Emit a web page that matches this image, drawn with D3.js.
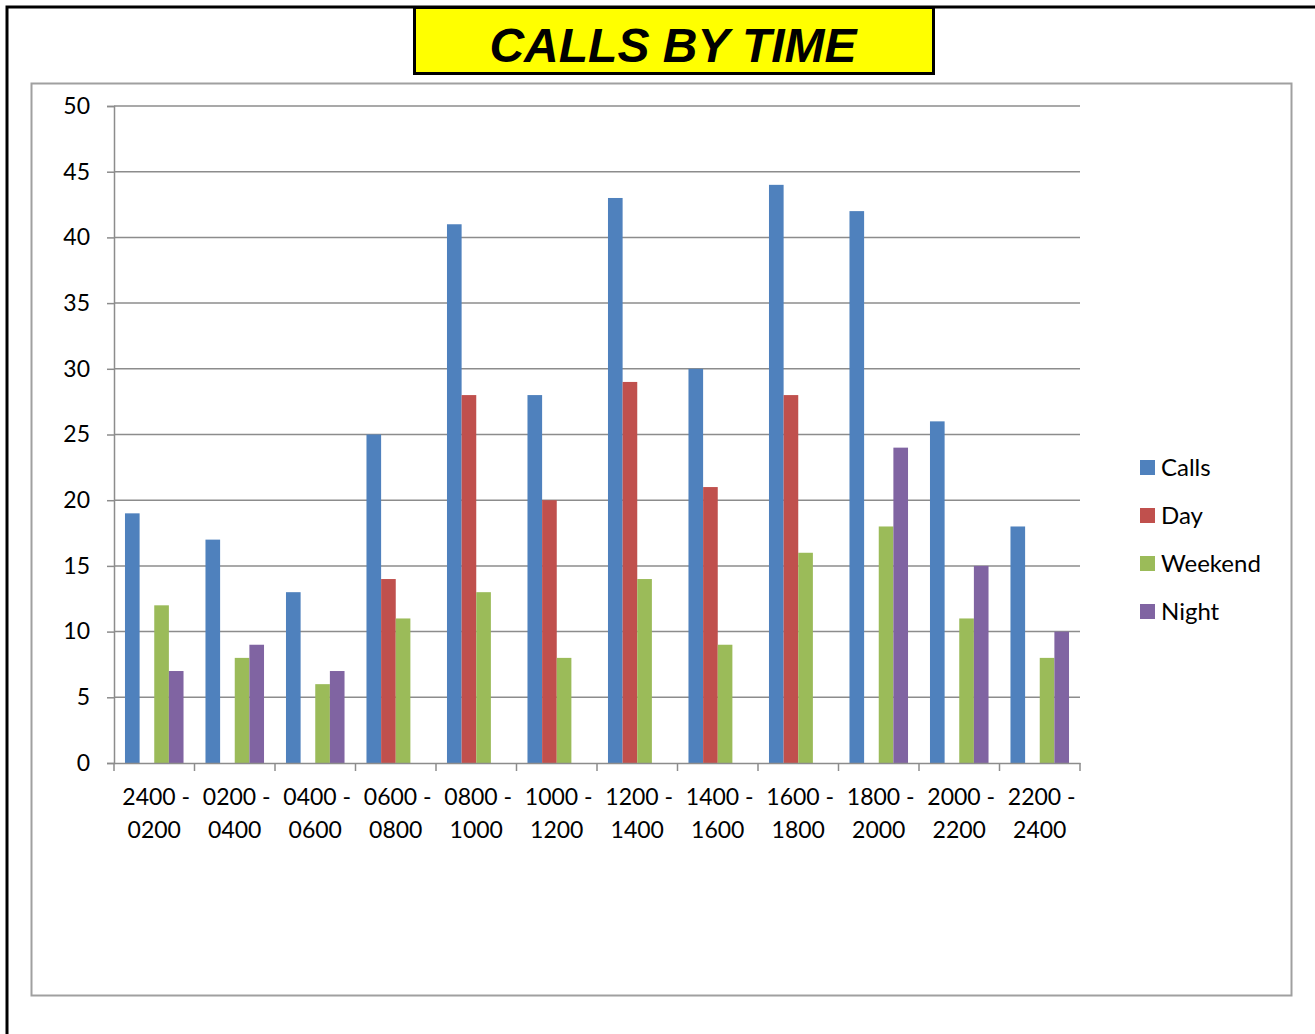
<!DOCTYPE html>
<html>
<head>
<meta charset="utf-8">
<script src="https://cdn.jsdelivr.net/npm/d3@7"></script>
<style>
  body { margin: 0; background: #fff; }
  svg { display: block; }
</style>
</head>
<body>
<div id="chart"></div>
<script>
// time slots along the x axis
const slots = ["2400 - 0200", "0200 - 0400", "0400 - 0600", "0600 - 0800", "0800 - 1000", "1000 - 1200",
               "1200 - 1400", "1400 - 1600", "1600 - 1800", "1800 - 2000", "2000 - 2200", "2200 - 2400"];
const seriesNames = ["Calls", "Day", "Weekend", "Night"];
const calls   = [19, 17, 13, 25, 41, 28, 43, 30, 44, 42, 26, 18];
const day     = [0, 0, 0, 14, 28, 20, 29, 21, 28, 0, 0, 0];
const weekend = [12, 8, 6, 11, 13, 8, 14, 9, 16, 18, 11, 8];
const night   = [7, 9, 7, 0, 0, 0, 0, 0, 0, 24, 15, 10];
const yTicks  = [0, 5, 10, 15, 20, 25, 30, 35, 40, 45, 50];

const colors = ["#4f81bd", "#c0504d", "#9bbb59", "#8064a2"];
const values = [calls, day, weekend, night];

const W = 1315, H = 1034;
const plot = {left: 114, right: 1080, top: 106, bottom: 763};
const font = "Lato, 'Open Sans', sans-serif";

const svg = d3.select("#chart").append("svg")
  .attr("width", W).attr("height", H);

// outer black frame (only top + left visible in the picture)
svg.append("path")
  .attr("d", `M7,${H} L7,7 L${W},7`)
  .attr("fill", "none").attr("stroke", "#000").attr("stroke-width", 3);

// chart area box
svg.append("rect")
  .attr("x", 31.5).attr("y", 83.5).attr("width", 1260).attr("height", 912)
  .attr("fill", "#fff").attr("stroke", "#a0a0a0").attr("stroke-width", 2);

// title box
svg.append("rect")
  .attr("x", 414.5).attr("y", 7.5).attr("width", 519).attr("height", 66)
  .attr("fill", "#ffff00").attr("stroke", "#000").attr("stroke-width", 3);
svg.append("text")
  .attr("x", 673).attr("y", 62)
  .attr("text-anchor", "middle")
  .style("font-family", "'Liberation Sans', Arial, sans-serif")
  .style("font-weight", "bold").style("font-style", "italic")
  .style("font-size", "48px")
  .text("CALLS BY TIME");

// scales
const x0 = d3.scaleBand().domain(slots).range([plot.left, plot.right]);
const bw = x0.bandwidth() / (seriesNames.length + 1.5);
const x1 = d3.scaleBand().domain(seriesNames)
  .range([bw * 0.75, bw * 0.75 + bw * seriesNames.length]);
const y = d3.scaleLinear().domain([0, 50]).range([plot.bottom, plot.top]);

// gridlines
svg.append("g")
  .selectAll("line").data(yTicks.filter(d => d > 0)).join("line")
  .attr("x1", plot.left).attr("x2", plot.right)
  .attr("y1", d => y(d)).attr("y2", d => y(d))
  .attr("stroke", "#8c8c8c").attr("stroke-width", 1.5);

// bars
const rows = slots.map((s, i) => ({slot: s, vals: seriesNames.map((n, k) => ({name: n, v: values[k][i], k}))}));
svg.append("g").selectAll("g").data(rows).join("g")
  .attr("transform", d => `translate(${x0(d.slot)},0)`)
  .selectAll("rect").data(d => d.vals.filter(e => e.v > 0)).join("rect")
  .attr("x", d => x1(d.name))
  .attr("width", x1.bandwidth())
  .attr("y", d => y(d.v))
  .attr("height", d => y(0) - y(d.v))
  .attr("fill", d => colors[d.k]);

// y axis
const yAxis = svg.append("g")
  .attr("transform", `translate(${plot.left},0)`)
  .call(d3.axisLeft(y).tickValues(yTicks).tickSize(7).tickPadding(17));
yAxis.select(".domain").attr("stroke", "#8c8c8c").attr("stroke-width", 1.5);
yAxis.selectAll(".tick line").attr("stroke", "#8c8c8c").attr("stroke-width", 1.5);
yAxis.selectAll(".tick text")
  .style("font-family", font).style("font-size", "23px").attr("fill", "#000");

// x axis
const xAxis = svg.append("g")
  .attr("transform", `translate(0,${plot.bottom})`)
  .call(d3.axisBottom(x0).tickSize(0).tickFormat(""));
xAxis.select(".domain").attr("stroke", "#8c8c8c").attr("stroke-width", 1.5);
xAxis.selectAll(".tick").remove();
xAxis.selectAll("line.sep")
  .data(slots.map(s => x0(s)).concat([plot.right])).join("line")
  .attr("class", "sep")
  .attr("x1", d => d).attr("x2", d => d)
  .attr("y1", 0).attr("y2", 8)
  .attr("stroke", "#8c8c8c").attr("stroke-width", 1.5);

const xl = svg.append("g").selectAll("text").data(slots).join("text")
  .attr("x", d => x0(d) + x0.bandwidth() / 2)
  .attr("y", plot.bottom + 42)
  .attr("text-anchor", "middle")
  .style("font-family", font).style("font-size", "23px").attr("fill", "#000");
xl.append("tspan").attr("x", d => x0(d) + x0.bandwidth() / 2 + 2).text(d => d.split(" - ")[0] + " -");
xl.append("tspan").attr("x", d => x0(d) + x0.bandwidth() / 2).attr("dy", 33).text(d => d.split(" - ")[1]);

// legend
const legend = svg.append("g").attr("transform", "translate(1140,467)");
const li = legend.selectAll("g").data(seriesNames).join("g")
  .attr("transform", (d, i) => `translate(0,${i * 48})`);
li.append("rect").attr("x", 0).attr("y", -7).attr("width", 15).attr("height", 15)
  .attr("fill", (d, i) => colors[i]);
li.append("text").attr("x", 21).attr("y", 9)
  .style("font-family", font).style("font-size", "24px").attr("fill", "#000")
  .text(d => d);
</script>
</body>
</html>
